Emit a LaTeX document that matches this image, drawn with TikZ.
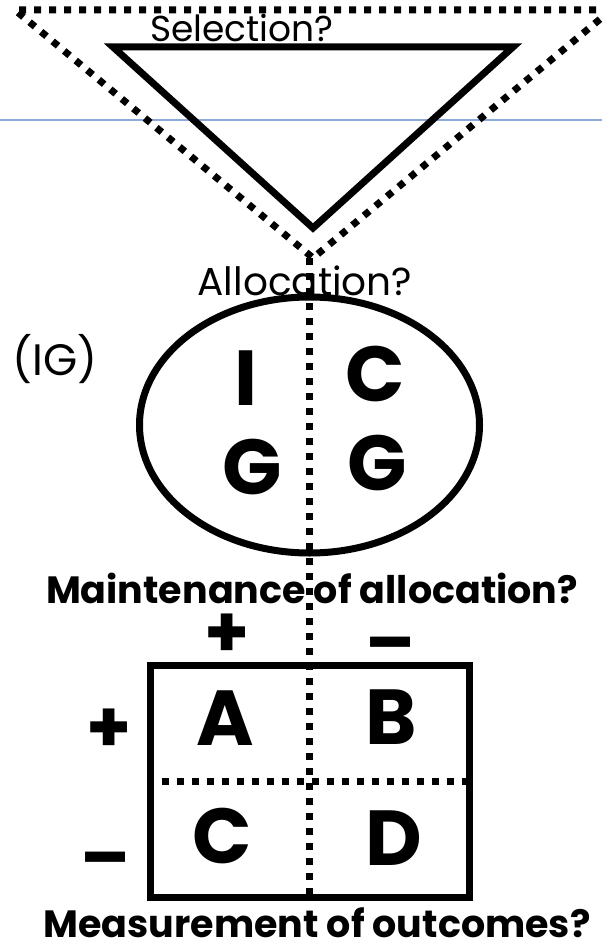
\documentclass[tikz,border=0pt]{standalone}
\usepackage{fontspec}
\setmainfont{Poppins}
\usetikzlibrary{positioning, shapes.geometric}
\definecolor{slide}{HTML}{8EA9DB}

\begin{document}
\begin{tikzpicture}[x=1pt, y=-1pt,
    frame/.style={draw, line width=7pt, inner sep=0pt},
    dotline/.style={line width=7pt, dash pattern=on 7pt off 8pt},
    question/.style={font=\fontsize{39}{39}\selectfont, inner sep=0pt, anchor=base},
    heading/.style={font=\bfseries\fontsize{38}{38}\selectfont, inner sep=0pt, anchor=base},
    cell/.style={font=\bfseries\fontsize{78}{78}\selectfont, inner sep=0pt},
    sign/.style={font=\bfseries\fontsize{72}{72}\selectfont, inner sep=0pt}]
  \useasboundingbox (0,0) rectangle (602,949);
  % slide rule behind everything
  \draw[slide, line width=2pt] (0,120) -- (602,120);
  % selection funnel
  \coordinate (tip) at (313,258);
  \draw[dotline] (611,10) -- (15,10) -- (tip) -- (611,10);
  \draw[line width=7pt, line join=miter] (113,47) -- (513,47) -- (313,228) -- cycle;
  \node[question, font=\fontsize{36}{36}\selectfont] (sel) at (242,42) {Selection?};
  % groups
  \node[frame, ellipse, minimum width=340pt, minimum height=256pt] (groups) at (309.5,425) {};
  \node[frame, rectangle, minimum width=319pt, minimum height=232pt] (table) at (309.5,781) {};
  \draw[dotline] (tip -| table.north) -- (table.south);
  \draw[dotline] (table.west) -- (table.east);
  \node[question] (alloc) at (305,295) {Allocation?};
  \node[question, font=\fontsize{44}{44}\selectfont, anchor=base east] (ig) at (98,375) {(IG)};
  \node[cell] (ig1) at (246,378) {I};
  \node[cell] (cg1) at (375,374) {C};
  \node[cell] (ig2) at (252,467) {G};
  \node[cell] (cg2) at (377,463) {G};
  \node[heading] (maint) at (312,603) {Maintenance of allocation?};
  % two by two
  \node[sign] (colplus) at (227,636) {+};
  \node[sign] (colminus) at (391,667) {\smash{–}};
  \node[sign] (rowplus) at (109,731) {+};
  \node[sign] (rowminus) at (106,882) {\smash{–}};
  \node[cell] (a) at (225,718) {A};
  \node[cell] (b) at (391,717) {B};
  \node[cell] (c) at (222,836) {C};
  \node[cell] (d) at (394,838) {D};
  \node[heading] (meas) at (317,937) {Measurement of outcomes?};
\end{tikzpicture}
\end{document}
